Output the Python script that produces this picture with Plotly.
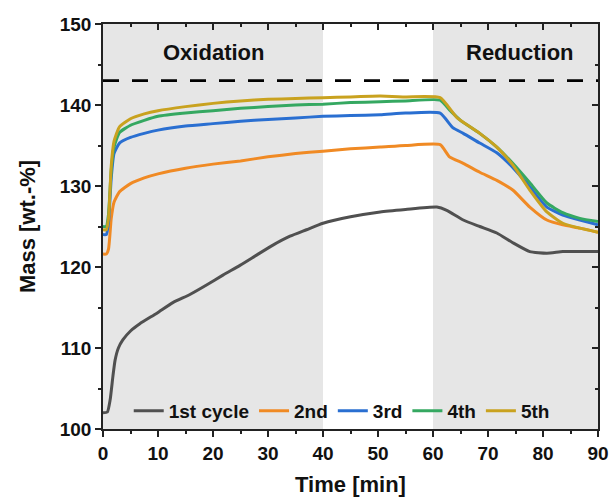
import plotly.graph_objects as go

# ---- data ----
t1 = [0, 0.8, 1.3, 1.8, 2.2, 2.8, 3.6, 5.0, 6.7, 9.8, 12.7, 15.8, 18.9, 21.8, 24.9, 28.0, 30.9, 34.0, 37.0, 40.0, 45.0, 50.4, 55.0, 60.7, 62.5, 65.5, 68.5, 71.6, 74.5, 77.6, 80.7, 83.6, 86.7, 90.0]
m1 = [102.0, 102.1, 103.6, 106.5, 108.5, 110.0, 111.0, 112.1, 113.0, 114.3, 115.6, 116.6, 117.8, 119.0, 120.2, 121.5, 122.7, 123.8, 124.6, 125.4, 126.2, 126.8, 127.1, 127.4, 127.0, 125.8, 125.0, 124.2, 123.0, 121.9, 121.7, 121.9, 121.9, 121.9]

t2 = [0, 0.6, 1.0, 1.5, 2.0, 3.0, 5.0, 7.5, 10, 15, 20, 25, 30, 35, 40, 45, 50.4, 55, 61.3, 63.0, 65.5, 68.5, 71.6, 74.5, 77.6, 80.7, 83.6, 86.7, 90.0]
m2 = [121.6, 121.6, 122.2, 126.0, 128.0, 129.3, 130.3, 131.0, 131.5, 132.2, 132.7, 133.1, 133.6, 134.0, 134.3, 134.6, 134.8, 135.0, 135.1, 133.6, 132.8, 131.7, 130.7, 129.5, 127.4, 125.8, 125.2, 124.8, 124.3]

t3 = [0, 0.6, 1.0, 1.5, 2.0, 3.0, 5.0, 7.5, 10, 15, 20, 25, 30, 35, 40, 45, 50.4, 55, 61.3, 63.6, 65.5, 68.5, 71.6, 74.5, 77.6, 80.7, 83.6, 86.7, 90.0]
m3 = [124.0, 124.0, 125.5, 131.0, 134.0, 135.3, 136.0, 136.5, 136.9, 137.4, 137.7, 138.0, 138.2, 138.4, 138.6, 138.7, 138.8, 139.0, 139.0, 137.2, 136.5, 135.3, 134.1, 132.3, 129.9, 127.4, 126.4, 125.8, 125.2]

t4 = [0, 0.6, 1.0, 1.5, 2.0, 3.0, 5.0, 7.5, 10, 15, 20, 25, 30, 35, 40, 45, 50.4, 55, 61.3, 63.0, 65.0, 68.5, 71.6, 74.5, 77.6, 80.7, 83.6, 86.7, 90.0]
m4 = [125.0, 125.0, 126.5, 132.0, 134.8, 136.6, 137.5, 138.1, 138.6, 139.0, 139.3, 139.6, 139.8, 140.0, 140.1, 140.3, 140.4, 140.5, 140.6, 139.4, 138.1, 136.5, 134.8, 132.8, 130.4, 127.9, 126.7, 126.0, 125.6]

t5 = [0, 0.6, 1.0, 1.5, 2.0, 3.0, 5.0, 7.5, 10, 15, 20, 25, 30, 35, 40, 45, 50.4, 55, 61.3, 64.4, 68.5, 71.6, 74.5, 77.6, 80.7, 83.6, 86.7, 90.0]
m5 = [124.6, 124.6, 126.0, 132.5, 135.5, 137.3, 138.3, 138.9, 139.3, 139.8, 140.2, 140.5, 140.7, 140.8, 140.9, 141.0, 141.1, 141.0, 140.9, 138.4, 136.5, 134.8, 132.6, 129.5, 126.8, 125.4, 124.8, 124.3]

names = ["1st cycle", "2nd", "3rd", "4th", "5th"]
colors = ["#505050", "#f08a24", "#2a6fd1", "#35a861", "#c9a21f"]
xs = [t1, t2, t3, t4, t5]
ys = [m1, m2, m3, m4, m5]

shaded = [(0, 40), (60, 90)]
ref_level = 143
phase_labels = [("Oxidation", 20.1, 146.5), ("Reduction", 75.9, 146.5)]

FONT = "Liberation Sans, Arial, sans-serif"
INK = "#111111"

fig = go.Figure()
for x, y, n, c in zip(xs, ys, names, colors):
    fig.add_trace(go.Scatter(x=x, y=y, name=n, mode="lines",
                             line=dict(color=c, width=3, shape="spline", smoothing=0.5)))

fig.add_trace(go.Scatter(x=[0, 90], y=[ref_level, ref_level], mode="lines",
                         line=dict(color="black", width=2.8, dash="16px,13px"),
                         showlegend=False, hoverinfo="skip"))

# helper invisible trace for top/right tick axes
fig.add_trace(go.Scatter(x=[0], y=[100], xaxis="x2", yaxis="y2", mode="markers",
                         marker=dict(opacity=0), showlegend=False, hoverinfo="skip"))

for a, b in shaded:
    fig.add_shape(type="rect", xref="x", yref="paper", x0=a, x1=b, y0=0, y1=1,
                  fillcolor="#e6e6e6", line=dict(width=0), layer="below")

for txt, xv, yv in phase_labels:
    fig.add_annotation(x=xv, y=yv, text=txt, showarrow=False,
                       font=dict(family=FONT, size=22, color=INK, weight="bold"))

axis_common = dict(showgrid=False, zeroline=False, showline=True, linecolor="#222222",
                   linewidth=1.5, ticks="outside", ticklen=6, tickwidth=1.5, tickcolor="#222222",
                   automargin=False,
                   tickfont=dict(family=FONT, size=19, color=INK, weight="bold"))

fig.update_layout(
    width=614, height=500,
    margin=dict(l=103, r=16, t=24, b=71),
    paper_bgcolor="white", plot_bgcolor="white",
    font=dict(family=FONT),
    xaxis=dict(range=[0, 90], dtick=10, mirror=True,
               minor=dict(dtick=5, ticks="outside", ticklen=3, tickwidth=1.5, tickcolor="#222222"),
               title=dict(text="Time [min]", font=dict(family=FONT, size=22, color=INK, weight="bold"), standoff=14),
               **axis_common),
    yaxis=dict(range=[100, 150], dtick=10, mirror=True,
               minor=dict(dtick=5, ticks="outside", ticklen=3, tickwidth=1.5, tickcolor="#222222"),
               title=dict(text="Mass [wt.-%]", font=dict(family=FONT, size=22, color=INK, weight="bold"), standoff=18),
               **axis_common),
    xaxis2=dict(range=[0, 90], dtick=10, overlaying="x", side="top", showgrid=False, zeroline=False,
                showticklabels=False, ticks="inside", ticklen=6, tickwidth=1.5, tickcolor="#222222",
                minor=dict(dtick=5, ticks="inside", ticklen=3, tickwidth=1.5, tickcolor="#222222")),
    yaxis2=dict(range=[100, 150], dtick=10, overlaying="y", side="right", showgrid=False, zeroline=False,
                showticklabels=False, ticks="inside", ticklen=6, tickwidth=1.5, tickcolor="#222222",
                minor=dict(dtick=5, ticks="inside", ticklen=3, tickwidth=1.5, tickcolor="#222222")),
    legend=dict(orientation="h", x=0.052, y=0.045, xanchor="left", yanchor="middle",
                bgcolor="rgba(0,0,0,0)", font=dict(family=FONT, size=19, color=INK, weight="bold"),
                itemwidth=30, tracegroupgap=0),
)

fig.write_html("out.html")
